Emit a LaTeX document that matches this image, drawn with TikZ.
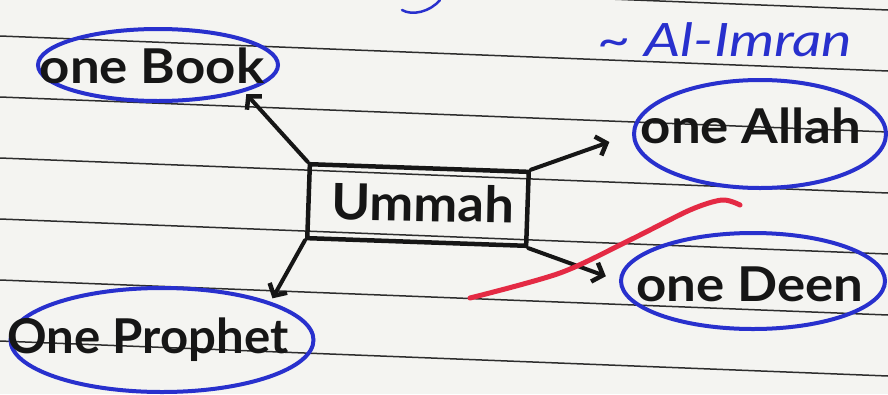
\documentclass[tikz,border=0pt]{standalone}
\usepackage{fontspec}
\setmainfont{Lato}
\usetikzlibrary{shapes.geometric,arrows.meta}
\definecolor{paper}{RGB}{244,244,241}
\definecolor{ink}{RGB}{22,22,22}
\definecolor{penblue}{RGB}{40,48,205}
\definecolor{penred}{RGB}{228,42,68}
\definecolor{rulecol}{RGB}{45,45,45}
\tikzset{
  ruleline/.style={rulecol, line width=1.5pt},
  bubble/.style={ellipse, draw=penblue, line width=4pt, inner sep=0pt},
  bubbletext/.style={text=ink, inner sep=0pt, xscale=1.1,
    font=\fontsize{48}{48}\selectfont\bfseries},
  ummabox/.style={rectangle, draw=ink, line width=4.5pt, inner sep=0pt,
    minimum width=219pt, minimum height=74pt},
  ummatext/.style={text=ink, inner sep=0pt, xscale=1.05,
    font=\fontsize{50}{50}\selectfont\bfseries},
  link/.style={ink, line width=4pt, line cap=round,
    -{Straight Barb[length=9pt,width=20pt,line width=4.5pt]}},
  refnote/.style={text=penblue, xscale=1.25, font=\fontsize{46}{46}\selectfont\itshape},
  redmark/.style={penred, line width=5pt, line cap=round}
}
\begin{document}
\begin{tikzpicture}[x=1pt,y=-1pt]
\fill[paper] (0,0) rectangle (888,394);
\useasboundingbox (0,0) rectangle (888,394);
\foreach \yy in {-25,36,97,158,219,280,341}
  \draw[ruleline] (0,\yy) -- (888,{\yy+35});
% blue fragment of writing at the top edge
\draw[penblue, line width=2.5pt, line cap=round] (402,10) .. controls (412,16) and (430,12) .. (440,0);
% bubbles
\node[bubble, minimum width=240pt, minimum height=72pt] (book) at (158,65) {};
\node[bubble, minimum width=252pt, minimum height=108pt] (allah) at (760,134) {};
\node[bubble, minimum width=264pt, minimum height=96pt] (deen) at (753,281) {};
\node[bubble, minimum width=303pt, minimum height=104pt] (prophet) at (162,340) {};
\node[bubbletext] (booktxt) at (152,66) {one Book};
\node[bubbletext] (allahtxt) at (751,126) {one Allah};
\node[bubbletext] (deentxt) at (750,284) {one Deen};
\node[bubbletext, xscale=0.93] (prophettxt) at (148,340) {One Prophet};
% centre
\node[ummabox, rotate=-2] (u) at (418,205) {};
\node[ummatext, rotate=-1] (utxt) at (423,203) {Ummah};
\node[refnote] (ref) at (725,40) {\textasciitilde\ Al-Imran};
% connectors
\draw[link, shorten >=3pt] (u.north west) -- (book.south east);
\draw[link, shorten >=24pt] (u.north east) -- (allah.west);
\draw[link, shorten >=14pt] (u.south east) -- (deen.west);
\draw[link, shorten >=4pt] (u.south west) -- (prophet.north east);
% red strike
\draw[redmark] plot[smooth] coordinates {(470,298) (560,273) (630,240) (690,210) (722,200) (740,205)};
\end{tikzpicture}
\end{document}
